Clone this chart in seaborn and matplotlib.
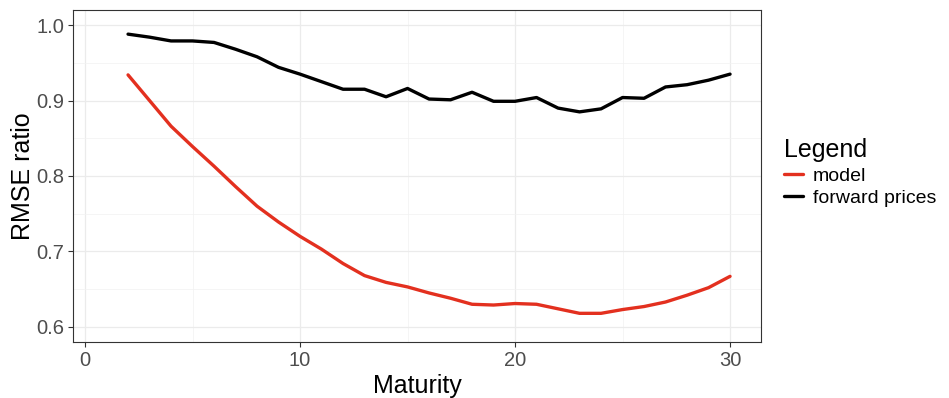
import numpy as np
import pandas as pd
import seaborn as sns
import matplotlib.pyplot as plt
from matplotlib.ticker import MultipleLocator

# maturities and RMSE ratios
maturity = list(range(2, 31))
model = [0.934, 0.900, 0.866, 0.839, 0.813, 0.786, 0.760, 0.739, 0.720, 0.703,
         0.684, 0.668, 0.659, 0.653, 0.645, 0.638, 0.630, 0.629, 0.631, 0.630,
         0.624, 0.618, 0.618, 0.623, 0.627, 0.633, 0.642, 0.652, 0.667]
forward_prices = [0.988, 0.984, 0.979, 0.979, 0.977, 0.968, 0.958, 0.944, 0.935, 0.925,
                  0.915, 0.915, 0.905, 0.916, 0.902, 0.901, 0.911, 0.899, 0.899, 0.904,
                  0.890, 0.885, 0.889, 0.904, 0.903, 0.918, 0.921, 0.927, 0.935]
series_names = ["model", "forward prices"]
colors = {"model": "#E3301F", "forward prices": "#000000"}

df = pd.DataFrame({
    "Maturity": maturity * 2,
    "RMSE ratio": model + forward_prices,
    "series": [series_names[0]] * len(maturity) + [series_names[1]] * len(maturity),
})

sns.set_theme(style="white")
plt.rcParams['font.family'] = ['Liberation Sans', 'DejaVu Sans']

fig = plt.figure(figsize=(9.49, 3.98), dpi=100)
ax = fig.add_axes([73 / 949, 1 - 342 / 398, (761 - 73) / 949, (342 - 10) / 398])

sns.lineplot(data=df, x="Maturity", y="RMSE ratio", hue="series",
             hue_order=series_names, palette=colors, linewidth=2.4, ax=ax)

ax.set_xlim(-0.56, 31.44)
ax.set_ylim(0.58, 1.02)
ax.xaxis.set_major_locator(MultipleLocator(10))
ax.xaxis.set_minor_locator(MultipleLocator(5))
ax.yaxis.set_major_locator(MultipleLocator(0.1))
ax.yaxis.set_minor_locator(MultipleLocator(0.05))
ax.set_yticks([0.6, 0.7, 0.8, 0.9, 1.0])
ax.set_yticklabels(["0.6", "0.7", "0.8", "0.9", "1.0"])

ax.grid(which="major", color="#EBEBEB", linewidth=0.9)
ax.grid(which="minor", color="#F2F2F2", linewidth=0.5)
ax.set_axisbelow(True)
for spine in ax.spines.values():
    spine.set_color("#333333")
    spine.set_linewidth(0.8)

ax.tick_params(which="major", length=3.5, width=0.8, color="#333333",
               labelsize=14.5, labelcolor="#4D4D4D", bottom=True, left=True, pad=3)
ax.tick_params(which="minor", length=0)

ax.set_xlabel("Maturity", fontsize=18, color="black", labelpad=3)
ax.set_ylabel("RMSE ratio", fontsize=18, color="black", labelpad=1)

leg = ax.legend(title="Legend", loc="center left", bbox_to_anchor=(1.008, 0.51),
                frameon=False, fontsize=14, title_fontsize=18, labelcolor="black",
                handlelength=1.0, handletextpad=0.5, labelspacing=0.25)
leg._legend_box.align = "left"
leg.get_title().set_color("black")
for line in leg.get_lines():
    line.set_linewidth(2.4)

fig.savefig("out.png", dpi=100)
